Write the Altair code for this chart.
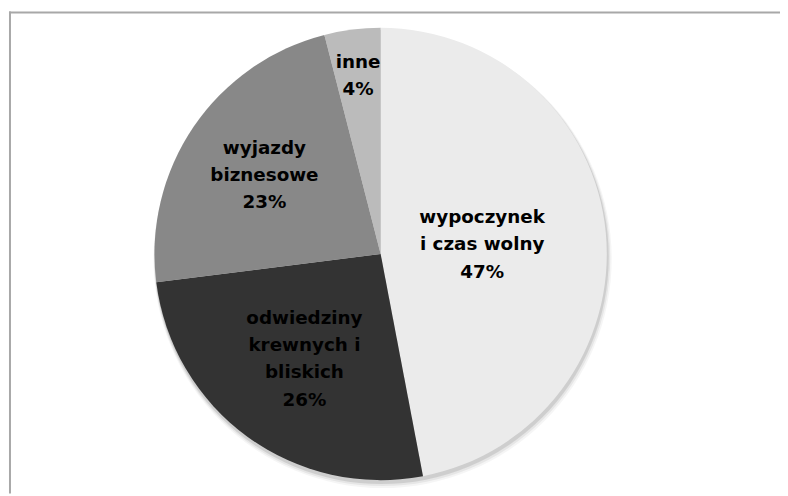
import math
import altair as alt
import pandas as pd

# --- data ---
categories = ["wypoczynek\ni czas wolny", "odwiedziny\nkrewnych i\nbliskich", "wyjazdy\nbiznesowe", "inne"]
values = [47, 26, 23, 4]
colors = ["#ebebeb", "#333333", "#888888", "#bbbbbb"]

# --- layout (not data) ---
W, H = 780, 488
CX, CY, R = 375.5, 246, 228.5
LH = 27.5
label_radius = [103, 131, 142, 182]

df = pd.DataFrame({
    "cat": categories,
    "value": values,
    "idx": list(range(len(values))),
    "lr": label_radius,
})
df["label"] = df["cat"] + "\n" + df["value"].astype(str) + "%"

color_scale = alt.Scale(domain=categories, range=colors)

base = alt.Chart(df)

# soft drop shadow (full discs behind the pie)
shadow_df = pd.DataFrame({"v": [1]})
shadows = []
for dx, dy, extra, op in [(1, 3, 1.0, 0.10), (1.5, 4, 2.0, 0.06), (2, 5, 3.0, 0.04)]:
    shadows.append(
        alt.Chart(shadow_df).mark_arc(radius=R + extra, fill="#000000", opacity=op, stroke=None)
        .encode(theta=alt.value(0), theta2=alt.value(2 * math.pi),
                x=alt.value(CX + dx), y=alt.value(CY + dy))
    )

pie = base.mark_arc(radius=R, stroke=None).encode(
    theta=alt.Theta("value:Q", stack=True),
    order=alt.Order("idx:Q"),
    color=alt.Color("cat:N", scale=color_scale, legend=None),
    x=alt.value(CX),
    y=alt.value(CY),
)

labels = base.transform_window(
    cum="sum(value)", sort=[alt.SortField("idx")], frame=[None, 0]
).transform_joinaggregate(
    total="sum(value)"
).transform_calculate(
    ang="2*PI*(datum.cum - datum.value/2)/datum.total",
    nl="length(split(datum.label, '\\n'))",
).transform_calculate(
    px=f"{CX} + datum.lr*sin(datum.ang)",
    py=f"{CY} - datum.lr*cos(datum.ang) - (datum.nl - 1)*{LH}/2",
).mark_text(
    font="DejaVu Sans",
    fontWeight="bold",
    fontSize=18.5,
    lineHeight=LH,
    lineBreak="\n",
    align="center",
    baseline="middle",
    color="#000000",
).encode(
    x=alt.X("px:Q", scale=None),
    y=alt.Y("py:Q", scale=None),
    text="label:N",
)

border_df = pd.DataFrame({"v": [0]})
top_rule = alt.Chart(border_df).mark_rule(color="#a8a8a8", strokeWidth=2).encode(
    x=alt.value(0), x2=alt.value(W), y=alt.value(2)
)
left_rule = alt.Chart(border_df).mark_rule(color="#a8a8a8", strokeWidth=2).encode(
    x=alt.value(1), y=alt.value(1), y2=alt.value(H)
)

chart = alt.layer(*shadows, pie, labels, top_rule, left_rule).properties(
    width=W,
    height=H,
    padding=0,
    autosize=alt.AutoSizeParams(type="fit", contains="padding"),
    background="#ffffff",
).configure_view(stroke=None)

chart.save("out.html", embed_options={"renderer": "svg", "actions": False})
